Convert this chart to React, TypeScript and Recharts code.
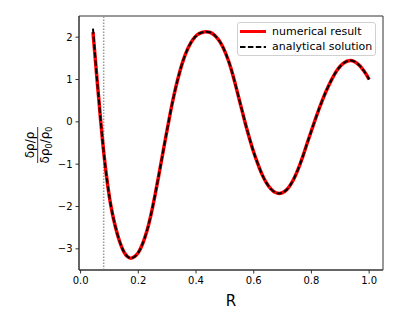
import React from "react";
import {
  LineChart,
  Line,
  XAxis,
  YAxis,
  ReferenceLine,
  ReferenceArea,
  Legend,
} from "recharts";

// values
const radius = [
  0.043, 0.05, 0.057, 0.064, 0.07, 0.074, 0.078, 0.082, 0.086, 0.09, 0.094,
  0.1, 0.106, 0.12, 0.135, 0.15, 0.162, 0.174, 0.188, 0.2, 0.215, 0.231,
  0.245, 0.258, 0.27, 0.281, 0.293, 0.304, 0.315, 0.327, 0.34, 0.355, 0.373,
  0.39, 0.405, 0.42, 0.434, 0.45, 0.465, 0.48, 0.495, 0.51, 0.523, 0.535,
  0.55, 0.562, 0.575, 0.587, 0.6, 0.613, 0.628, 0.643, 0.66, 0.675, 0.688,
  0.7, 0.715, 0.73, 0.745, 0.76, 0.772, 0.784, 0.797, 0.81, 0.83, 0.85,
  0.871, 0.89, 0.91, 0.934, 0.95, 0.965, 0.98, 0.99, 1.0,
];

const numerical = [
  2.12, 1.56, 1.0, 0.47, 0.0, -0.29, -0.57, -0.83, -1.07, -1.29, -1.5,
  -1.78, -2.02, -2.46, -2.82, -3.07, -3.18, -3.22, -3.18, -3.09, -2.88, -2.55,
  -2.16, -1.73, -1.3, -0.89, -0.44, -0.04, 0.35, 0.73, 1.09, 1.44, 1.75,
  1.95, 2.06, 2.11, 2.13, 2.11, 2.04, 1.92, 1.74, 1.49, 1.22, 0.92,
  0.52, 0.2, -0.14, -0.43, -0.72, -0.97, -1.23, -1.43, -1.59, -1.67, -1.69,
  -1.67, -1.6, -1.46, -1.26, -1.01, -0.78, -0.53, -0.27, -0.01, 0.37, 0.71,
  1.01, 1.23, 1.38, 1.45, 1.42, 1.34, 1.22, 1.12, 1.0,
];

const analytical = [
  2.2, 1.6, 1.0, 0.47, 0.0, -0.29, -0.57, -0.83, -1.07, -1.29, -1.5,
  -1.78, -2.02, -2.46, -2.82, -3.07, -3.18, -3.22, -3.18, -3.09, -2.88, -2.55,
  -2.16, -1.73, -1.3, -0.89, -0.44, -0.04, 0.35, 0.73, 1.09, 1.44, 1.75,
  1.95, 2.06, 2.11, 2.13, 2.11, 2.04, 1.92, 1.74, 1.49, 1.22, 0.92,
  0.52, 0.2, -0.14, -0.43, -0.72, -0.97, -1.23, -1.43, -1.59, -1.67, -1.69,
  -1.67, -1.6, -1.46, -1.26, -1.01, -0.78, -0.53, -0.27, -0.01, 0.37, 0.71,
  1.01, 1.23, 1.38, 1.45, 1.42, 1.34, 1.22, 1.12, 1.0,
];

const xTicks = [0, 0.2, 0.4, 0.6, 0.8, 1.0];
const yTicks = [-3, -2, -1, 0, 1, 2];
const cutoff = 0.08;

const X_DOMAIN: [number, number] = [-0.0055, 1.048];
const Y_DOMAIN: [number, number] = [-3.5, 2.5];

const numData = radius.map((r, i) => ({ r, v: numerical[i] }));
const anaData = radius.map((r, i) => ({ r, v: analytical[i] }));

const FONT = "DejaVu Sans, sans-serif";

const YLabel = ({ viewBox }: any) => {
  const cx = 37.7;
  const cy = viewBox.y + viewBox.height / 2 + 2;
  return (
    <g transform={`rotate(-90 ${cx} ${cy})`} fontFamily={FONT} fill="#000">
      <text x={cx} y={cy - 4} fontSize={12} textAnchor="middle">
        δρ/ρ
      </text>
      <line x1={cx - 18} x2={cx + 18} y1={cy} y2={cy} stroke="#000" strokeWidth={0.8} />
      <text x={cx} y={cy + 11} fontSize={12} textAnchor="middle">
        <tspan>δρ</tspan>
        <tspan fontSize={8} dy={3}>0</tspan>
        <tspan dy={-3}>/ρ</tspan>
        <tspan fontSize={8} dy={3}>0</tspan>
      </text>
    </g>
  );
};

const XLabel = ({ viewBox }: any) => (
  <text
    x={viewBox.x + viewBox.width / 2}
    y={viewBox.y + 36}
    fontSize={15}
    fontFamily={FONT}
    textAnchor="middle"
    fill="#000"
  >
    R
  </text>
);

const LegendBox = () => (
  <div
    style={{
      position: "absolute",
      left: 237,
      top: 22,
      width: 139,
      height: 34,
      border: "1px solid #d0d0d0",
      borderRadius: 3,
      background: "rgba(255,255,255,0.8)",
      fontFamily: FONT,
      fontSize: 11,
      color: "#000",
      boxSizing: "border-box",
    }}
  >
    <div style={{ position: "absolute", left: 2, top: 7, width: 26, height: 3, background: "#ff0000" }} />
    <div style={{ position: "absolute", left: 34, top: 1, whiteSpace: "nowrap", lineHeight: "15px" }}>
      numerical result
    </div>
    <svg style={{ position: "absolute", left: 2, top: 22 }} width={26} height={4}>
      <line x1={0} x2={26} y1={2} y2={2} stroke="#000" strokeWidth={2} strokeDasharray="5.5 2.4" />
    </svg>
    <div style={{ position: "absolute", left: 34, top: 16, whiteSpace: "nowrap", lineHeight: "15px" }}>
      analytical solution
    </div>
  </div>
);

export default function App() {
  return (
    <div style={{ position: "absolute", left: 0, top: 0, width: 399, height: 319, background: "#fff" }}>
      <LineChart
        width={399}
        height={319}
        margin={{ top: 16, right: 16, left: 0, bottom: 0 }}
      >
        <XAxis
          dataKey="r"
          type="number"
          domain={X_DOMAIN}
          ticks={xTicks}
          allowDataOverflow
          tickFormatter={(v: number) => v.toFixed(1)}
          height={49}
          tickSize={3.5}
          tickMargin={3.5}
          stroke="#333"
          tick={{ fontSize: 10, fontFamily: FONT, fill: "#000" }}
          label={<XLabel />}
        />
        <YAxis
          dataKey="v"
          type="number"
          domain={Y_DOMAIN}
          ticks={yTicks}
          allowDataOverflow
          tickFormatter={(v: number) => (v < 0 ? `\u2212${Math.abs(v)}` : `${v}`)}
          width={79}
          tickSize={3.5}
          tickMargin={3}
          stroke="#333"
          tick={{ fontSize: 10, fontFamily: FONT, fill: "#000" }}
          label={<YLabel />}
        />
        <ReferenceArea
          x1={X_DOMAIN[0]}
          x2={X_DOMAIN[1]}
          y1={Y_DOMAIN[0]}
          y2={Y_DOMAIN[1]}
          fill="none"
          stroke="#333"
          strokeWidth={1}
        />
        <ReferenceLine x={cutoff} stroke="#999" strokeWidth={1.5} strokeDasharray="1.5 1.5" />
        <Line
          data={numData}
          dataKey="v"
          type="monotone"
          stroke="#ff0000"
          strokeWidth={3.5}
          dot={false}
          isAnimationActive={false}
        />
        <Line
          data={anaData}
          dataKey="v"
          type="monotone"
          stroke="#000"
          strokeWidth={2}
          strokeDasharray="5.5 2.4"
          dot={false}
          isAnimationActive={false}
        />
        <Legend content={<LegendBox />} wrapperStyle={{ position: "absolute", left: 0, top: 0, width: 0, height: 0 }} />
      </LineChart>
    </div>
  );
}
